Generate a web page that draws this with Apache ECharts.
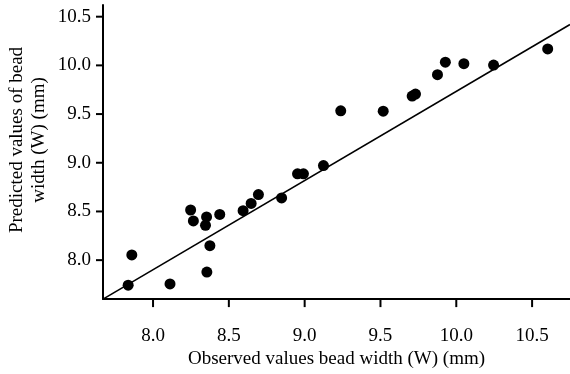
<!DOCTYPE html>
<html>
<head>
<meta charset="utf-8">
<script src="https://cdn.jsdelivr.net/npm/echarts@6/dist/echarts.min.js"></script>
<style>
  html, body { margin: 0; padding: 0; background: #fff; }
  #chart { width: 570px; height: 374px; }
</style>
</head>
<body>
<div id="chart"></div>
<script>
// observed vs predicted bead width (mm)
var observed = [7.836, 7.860, 8.112, 8.248, 8.266, 8.353, 8.346, 8.375, 8.355, 8.440,
  8.594, 8.647, 8.695, 8.848, 8.953, 8.992, 9.124, 9.238, 9.518, 9.709,
  9.731, 9.876, 9.928, 10.050, 10.246, 10.603];
var predicted = [7.743, 8.054, 7.756, 8.515, 8.403, 8.444, 8.358, 8.149, 7.878, 8.470,
  8.508, 8.582, 8.673, 8.639, 8.886, 8.886, 8.971, 9.533, 9.530, 9.685,
  9.705, 9.905, 10.033, 10.017, 10.003, 10.169];
// fitted line end points
var fitX = [7.67, 10.75];
var fitY = [7.6, 10.42];
var tickValues = [8, 8.5, 9, 9.5, 10, 10.5];

var font = 'Liberation Serif';
var xMin = 7.67, xMax = 10.75, yMin = 7.6, yMax = 10.62;
var chart = echarts.init(document.getElementById('chart'));

var points = observed.map(function (x, i) { return [x, predicted[i]]; });
var fit = fitX.map(function (x, i) { return [x, fitY[i]]; });

function fmt(v) { return Number(v).toFixed(1); }

var yTitle = {
  id: 'ytitle',
  type: 'text',
  x: 28,
  y: 140,
  rotation: Math.PI / 2,
  style: {
    text: 'Predicted values of bead\nwidth (W) (mm)',
    font: '19px "Liberation Serif"',
    fill: '#000',
    align: 'center',
    verticalAlign: 'middle',
    lineHeight: 22
  }
};

chart.setOption({
  animation: false,
  grid: { left: 103, right: 0, top: 5, bottom: 71 },
  xAxis: {
    type: 'value',
    min: xMin,
    max: xMax,
    splitLine: { show: false },
    axisLine: { show: true, onZero: false, lineStyle: { color: '#000', width: 2 } },
    axisTick: { show: false },
    axisLabel: { color: '#000', fontFamily: font, fontSize: 19, margin: 27,
      customValues: tickValues, formatter: fmt },
    name: 'Observed values bead width (W) (mm)',
    nameLocation: 'middle',
    nameGap: 44,
    nameTextStyle: { color: '#000', fontFamily: font, fontSize: 19 }
  },
  yAxis: {
    type: 'value',
    min: yMin,
    max: yMax,
    splitLine: { show: false },
    axisLine: { show: true, onZero: false, lineStyle: { color: '#000', width: 2 } },
    axisTick: { show: false },
    axisLabel: { color: '#000', fontFamily: font, fontSize: 19, margin: 12,
      customValues: tickValues, formatter: fmt }
  },
  graphic: [yTitle],
  series: [
    {
      type: 'line',
      data: fit,
      symbol: 'none',
      lineStyle: { color: '#000', width: 1.6 },
      z: 1
    },
    {
      type: 'scatter',
      data: points,
      symbolSize: 11,
      itemStyle: { color: '#000', opacity: 1 },
      z: 2
    }
  ]
});

// outward tick marks, placed through the axes' own scales
var axisY = chart.convertToPixel({ yAxisIndex: 0 }, yMin);
var axisX = chart.convertToPixel({ xAxisIndex: 0 }, xMin);
var ticks = [];
tickValues.forEach(function (v, i) {
  var px = chart.convertToPixel({ xAxisIndex: 0 }, v);
  var py = chart.convertToPixel({ yAxisIndex: 0 }, v);
  ticks.push({
    id: 'xt' + i, type: 'line', z: 10,
    shape: { x1: px, y1: axisY, x2: px, y2: axisY + 8 },
    style: { stroke: '#000', lineWidth: 2 }
  });
  ticks.push({
    id: 'yt' + i, type: 'line', z: 10,
    shape: { x1: axisX, y1: py, x2: axisX - 7, y2: py },
    style: { stroke: '#000', lineWidth: 2 }
  });
});
chart.setOption({ graphic: [yTitle].concat(ticks) });
</script>
</body>
</html>
